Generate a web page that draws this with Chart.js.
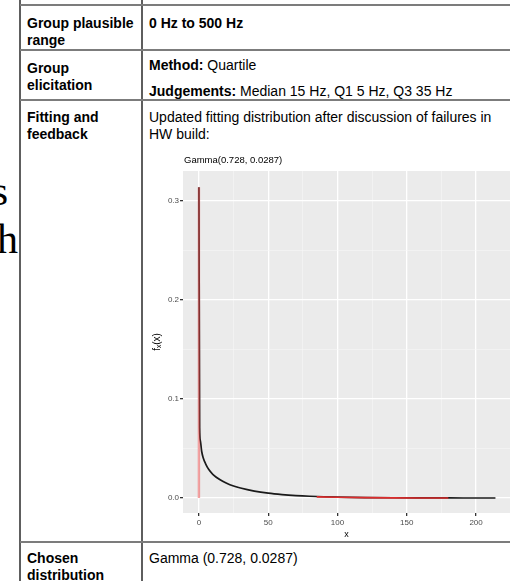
<!DOCTYPE html>
<html>
<head>
<meta charset="utf-8">
<script src="https://cdn.jsdelivr.net/npm/chart.js@4/dist/chart.umd.min.js"></script>
<style>
  body { margin: 0; width: 510px; height: 581px; overflow: hidden; background: #fff; position: relative;
         font-family: 'Liberation Sans', Arial, sans-serif; font-size: 14px; color: #000; }
  .vl { position: absolute; top: 0; width: 2px; height: 581px; background: #5e5e5e; }
  .hl { position: absolute; left: 20px; width: 490px; height: 2px; background: #7c7c7c; }
  .cell { position: absolute; line-height: 16.5px; white-space: nowrap; }
  .serif { position: absolute; left: -100px; width: 108px; text-align: right; font: 42px/42px 'Liberation Serif', serif; }
  #c { position: absolute; left: 143px; top: 146px; }
</style>
</head>
<body>
<!-- cut-off text of the neighbouring page -->
<div class="serif" style="top:170px">s</div>
<div class="serif" style="top:218px; width:118px">h</div>

<div class="vl" style="left:19px"></div>
<div class="vl" style="left:141px"></div>
<div class="hl" style="top:4px"></div>
<div class="hl" style="top:49px"></div>
<div class="hl" style="top:99px"></div>
<div class="hl" style="top:541px"></div>

<div class="cell" style="left:27px; top:15px"><b>Group plausible<br>range</b></div>
<div class="cell" style="left:149px; top:15px"><b>0 Hz to 500 Hz</b></div>
<div class="cell" style="left:27px; top:60px"><b>Group<br>elicitation</b></div>
<div class="cell" style="left:149px; top:57px"><b>Method:</b> Quartile</div>
<div class="cell" style="left:149px; top:83px"><b>Judgements:</b> Median 15 Hz, Q1 5 Hz, Q3 35 Hz</div>
<div class="cell" style="left:27px; top:109px"><b>Fitting and<br>feedback</b></div>
<div class="cell" style="left:149px; top:109px">Updated fitting distribution after discussion of failures in<br>HW build:</div>
<div class="cell" style="left:27px; top:550px"><b>Chosen<br>distribution</b></div>
<div class="cell" style="left:149px; top:550px">Gamma (0.728, 0.0287)</div>

<canvas id="c" width="367" height="395"></canvas>

<script>
// fitted density
const CURVE_X = [0, 0.5, 1, 2, 3, 5, 7, 10, 15, 20, 25, 30, 40, 50, 60, 70, 80, 90, 100, 120, 140, 160, 180, 200, 214];
const CURVE_Y = [0.314, 0.071, 0.058, 0.047, 0.041, 0.034, 0.029, 0.024, 0.0187, 0.015, 0.0122, 0.0101, 0.007, 0.0049,
                 0.0035, 0.0025, 0.0018, 0.0013, 0.00097, 0.00052, 0.00028, 0.00015, 0.00008, 0.00005, 0.00003];
// shaded tails (red)
const LEFT_TAIL_X = [0, 0];
const LEFT_TAIL_Y = [0, 0.314];
const RIGHT_TAIL_X = [85, 100, 120, 140, 160, 180];
const RIGHT_TAIL_Y = [0.0012, 0.0008, 0.0004, 0.0002, 0.0001, 0.00005];

const X_TICKS = [0, 50, 100, 150, 200];
const X_MINOR = [25, 75, 125, 175];
const Y_TICKS = [0, 0.1, 0.2, 0.3];
const Y_MINOR = [0.05, 0.15, 0.25];
const TITLE = 'Gamma(0.728, 0.0287)';

const pts = (xs, ys) => xs.map((x, i) => ({ x, y: ys[i] }));

const panelBg = {
  id: 'panelBg',
  beforeDraw(chart) {
    const { ctx, chartArea: a } = chart;
    ctx.save();
    ctx.fillStyle = '#ebebeb';
    ctx.fillRect(a.left, a.top, a.right - a.left, a.bottom - a.top);
    ctx.restore();
  },
};

const panelTitle = {
  id: 'panelTitle',
  afterDraw(chart) {
    const { ctx, chartArea } = chart;
    ctx.save();
    ctx.font = '9.5px "Liberation Sans", Arial, sans-serif';
    ctx.fillStyle = '#000';
    ctx.textBaseline = 'middle';
    ctx.fillText(TITLE, chartArea.left + 1, 14);
    ctx.restore();
  },
};

function gridOpts(majors) {
  const major = (c) => majors.includes(c.tick && c.tick.value);
  return {
    color: (c) => (major(c) ? '#ffffff' : '#f6f6f6'),
    lineWidth: (c) => (major(c) ? 1.3 : 0.6),
    tickColor: (c) => (major(c) ? '#333333' : 'rgba(0,0,0,0)'),
    tickLength: 3,
    drawTicks: true,
  };
}

const tickFont = { family: 'Liberation Sans', size: 8 };
const titleFont = { family: 'Liberation Sans', size: 10 };

new Chart(document.getElementById('c'), {
  type: 'scatter',
  data: {
    datasets: [
      { data: pts(RIGHT_TAIL_X, RIGHT_TAIL_Y), borderColor: '#dd2c2c', borderWidth: 1.6, order: 1 },
      { data: pts(LEFT_TAIL_X, LEFT_TAIL_Y), borderColor: 'rgba(232,70,70,0.5)', borderWidth: 2.4, order: 1 },
      { data: pts(CURVE_X, CURVE_Y), borderColor: '#1a1a1a', borderWidth: 1.7, cubicInterpolationMode: 'monotone', order: 2 },
    ].map((d) => ({ ...d, showLine: true, pointRadius: 0, fill: false })),
  },
  options: {
    responsive: false,
    animation: false,
    layout: { padding: { top: 25, right: 0, bottom: 0, left: 0 } },
    plugins: { legend: { display: false }, tooltip: { enabled: false } },
    scales: {
      x: {
        type: 'linear', min: -11.5, max: 224.5,
        afterBuildTicks: (s) => { s.ticks = [...X_TICKS, ...X_MINOR].sort((a, b) => a - b).map((v) => ({ value: v })); },
        afterFit: (s) => { s.height = 28; },
        ticks: { autoSkip: false, maxRotation: 0, padding: 2, color: '#4d4d4d', font: tickFont,
                 callback: (v) => (X_TICKS.includes(v) ? String(v) : '') },
        grid: gridOpts(X_TICKS),
        border: { display: false },
        title: { display: true, text: 'x', color: '#000', font: { family: 'Liberation Sans', size: 9 }, padding: { top: 0, bottom: 1 } },
      },
      y: {
        type: 'linear', min: -0.0151, max: 0.3303,
        afterBuildTicks: (s) => { s.ticks = [...Y_TICKS, ...Y_MINOR].sort((a, b) => a - b).map((v) => ({ value: v })); },
        afterFit: (s) => { s.width = 40; },
        ticks: { autoSkip: false, padding: 1, color: '#4d4d4d', font: tickFont,
                 callback: (v) => (Y_TICKS.includes(v) ? v.toFixed(1) : '') },
        grid: gridOpts(Y_TICKS),
        border: { display: false },
        title: { display: true, text: 'f\u2093(x)', color: '#000', font: titleFont, padding: { top: 8, bottom: 0 } },
      },
    },
  },
  plugins: [panelBg, panelTitle],
});
</script>
</body>
</html>
